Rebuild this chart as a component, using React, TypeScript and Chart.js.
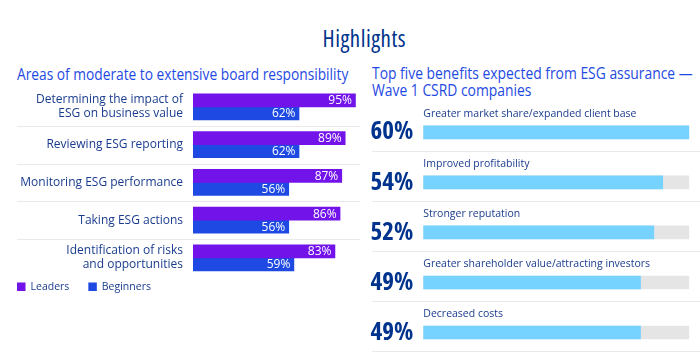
import React, { useEffect, useRef } from "react";
import { Chart, registerables } from "chart.js";

Chart.register(...registerables);

// ---------- Data ----------
const pageTitle = "Highlights";
const leftTitle = "Areas of moderate to extensive board responsibility";
const rightTitleLines = ["Top five benefits expected from ESG assurance —", "Wave 1 CSRD companies"];

const areaCategories: string[][] = [
  ["Determining the impact of", "ESG on business value"],
  ["Reviewing ESG reporting"],
  ["Monitoring ESG performance"],
  ["Taking ESG actions"],
  ["Identification of risks", "and opportunities"],
];
const seriesNames = ["Leaders", "Beginners"];
const leadersValues = [95, 89, 87, 86, 83];
const beginnersValues = [62, 62, 56, 56, 59];
const areaAxisMax = 100;

const benefitCategories = [
  "Greater market share/expanded client base",
  "Improved profitability",
  "Stronger reputation",
  "Greater shareholder value/attracting investors",
  "Decreased costs",
];
const benefitValues = [60, 54, 52, 49, 49];
const benefitAxisMax = 60;

// ---------- Styles ----------
const PURPLE = "#7213EA";
const BLUE = "#1E49E2";
const LIGHT_BLUE = "#76D2FF";
const TRACK = "#E5E5E5";
const NAVY = "#00338D";
const LABEL_NAVY = "#1A3C8E";
const SEP = "#E9E9E9";
const BODY = "'Open Sans', 'Noto Sans', sans-serif";

const leftPlugin = {
  id: "leftDecor",
  beforeDatasetsDraw(chart: any) {
    const { ctx } = chart;
    const y = chart.scales.y;
    ctx.save();
    ctx.strokeStyle = SEP;
    ctx.lineWidth = 1;
    for (let i = 1; i < areaCategories.length; i++) {
      const py = Math.round((y.getPixelForValue(i - 1) + y.getPixelForValue(i)) / 2) + 0.5;
      ctx.beginPath();
      ctx.moveTo(17, py);
      ctx.lineTo(360, py);
      ctx.stroke();
    }
    ctx.restore();
  },
  afterDatasetsDraw(chart: any) {
    const { ctx } = chart;
    ctx.save();
    ctx.font = `12px ${BODY}`;
    ctx.fillStyle = "#FFFFFF";
    ctx.textAlign = "right";
    ctx.textBaseline = "middle";
    chart.data.datasets.forEach((ds: any, di: number) => {
      const meta = chart.getDatasetMeta(di);
      meta.data.forEach((el: any, i: number) => {
        ctx.fillText(`${ds.data[i]}%`, el.x - 3.5, el.y + 0.5);
      });
    });
    // legend
    let x = 17;
    const ly = 199;
    ctx.font = `10.5px ${BODY}`;
    ctx.textAlign = "left";
    chart.data.datasets.forEach((ds: any) => {
      ctx.fillStyle = ds.backgroundColor;
      ctx.fillRect(x, ly - 4.5, 8.5, 8.5);
      ctx.fillStyle = LABEL_NAVY;
      ctx.fillText(ds.label, x + 13.5, ly);
      x += 13.5 + ctx.measureText(ds.label).width + 19;
    });
    ctx.restore();
  },
};

const rightPlugin = {
  id: "rightDecor",
  beforeDatasetsDraw(chart: any) {
    const { ctx } = chart;
    const meta = chart.getDatasetMeta(0);
    ctx.save();
    ctx.strokeStyle = SEP;
    ctx.lineWidth = 1;
    meta.data.forEach((el: any) => {
      const py = Math.round(el.y + 18.8) + 0.5;
      ctx.beginPath();
      ctx.moveTo(12, py);
      ctx.lineTo(340, py);
      ctx.stroke();
    });
    ctx.restore();
  },
  afterDatasetsDraw(chart: any) {
    const { ctx, chartArea } = chart;
    const meta = chart.getDatasetMeta(0);
    ctx.save();
    ctx.font = `10.5px ${BODY}`;
    ctx.fillStyle = LABEL_NAVY;
    ctx.textAlign = "left";
    ctx.textBaseline = "middle";
    meta.data.forEach((el: any, i: number) => {
      ctx.fillText(benefitCategories[i], chartArea.left, el.y - 18.5);
    });
    ctx.restore();
  },
};

const noPad = (w: number) => (s: any) => {
  s.width = w;
  s.paddingTop = 0;
  s.paddingBottom = 0;
};

export default function App() {
  const leftRef = useRef<HTMLCanvasElement>(null);
  const rightRef = useRef<HTMLCanvasElement>(null);

  useEffect(() => {
    document.body.style.margin = "0";
    const left = new Chart(leftRef.current as HTMLCanvasElement, {
      type: "bar",
      data: {
        labels: areaCategories as any,
        datasets: [
          { label: seriesNames[0], data: leadersValues, backgroundColor: PURPLE, barThickness: 13 },
          { label: seriesNames[1], data: beginnersValues, backgroundColor: BLUE, barThickness: 13 },
        ],
      },
      options: {
        indexAxis: "y",
        animation: false,
        responsive: false,
        maintainAspectRatio: false,
        layout: { padding: { left: 0, right: 6, top: 0, bottom: 26.25 } },
        datasets: { bar: { categoryPercentage: 30 / 37.75, barPercentage: 1 } },
        scales: {
          x: { display: false, min: 0, max: areaAxisMax },
          y: {
            grid: { display: false, drawTicks: false },
            border: { display: false },
            ticks: { padding: 10, color: LABEL_NAVY, font: { family: BODY, size: 12, lineHeight: 1.14 } },
            afterFit: noPad(193),
          },
        },
        plugins: { legend: { display: false }, tooltip: { enabled: false } },
      } as any,
      plugins: [leftPlugin],
    });

    const right = new Chart(rightRef.current as HTMLCanvasElement, {
      type: "bar",
      data: {
        labels: benefitCategories,
        datasets: [
          { label: "Benefit", data: benefitValues, backgroundColor: LIGHT_BLUE, barThickness: 13, order: 0 },
          { label: "Track", data: benefitCategories.map(() => benefitAxisMax), backgroundColor: TRACK, barThickness: 13, order: 1 },
        ],
      },
      options: {
        indexAxis: "y",
        animation: false,
        responsive: false,
        maintainAspectRatio: false,
        layout: { padding: { left: 0, right: 10.7, top: 7.3, bottom: 0.45 } },
        datasets: { bar: { grouped: false } },
        scales: {
          x: { display: false, min: 0, max: benefitAxisMax },
          y: {
            grid: { display: false, drawTicks: false },
            border: { display: false },
            ticks: {
              padding: 10,
              color: NAVY,
              font: { family: BODY, size: 25, weight: "bold condensed" },
              callback: (_v: any, i: number) => `${benefitValues[i]}%`,
            },
            afterFit: noPad(63.3),
          },
        },
        plugins: { legend: { display: false }, tooltip: { enabled: false } },
      } as any,
      plugins: [rightPlugin],
    });

    return () => {
      left.destroy();
      right.destroy();
    };
  }, []);

  const base: any = { fontFamily: BODY, whiteSpace: "nowrap", position: "absolute" };

  return (
    <div style={{ position: "fixed", left: 0, top: 0, width: 700, height: 358, background: "#fff", overflow: "hidden" }}>
      <div
        style={{
          ...base,
          fontStretch: "75%",
          letterSpacing: "0.5px",
          left: 364.3,
          top: 26.5,
          transform: "translateX(-50%)",
          fontSize: 23,
          lineHeight: "23px",
          color: NAVY,
        }}
      >
        {pageTitle}
      </div>
      <div
        style={{
          ...base,
          fontWeight: 500,
          left: 17,
          top: 67.3,
          fontSize: 15.5,
          lineHeight: "15.5px",
          color: BLUE,
          transform: "scaleX(0.887)",
          transformOrigin: "0 0",
        }}
      >
        {leftTitle}
      </div>
      <div
        style={{
          ...base,
          fontWeight: 500,
          left: 372,
          top: 65.2,
          fontSize: 15.5,
          lineHeight: "16.7px",
          color: BLUE,
          transform: "scaleX(0.895)",
          transformOrigin: "0 0",
        }}
      >
        {rightTitleLines.map((l) => (
          <div key={l}>{l}</div>
        ))}
      </div>
      <canvas ref={leftRef} width={370} height={215} style={{ position: "absolute", left: 0, top: 88, width: 370, height: 215 }} />
      <canvas ref={rightRef} width={340} height={258} style={{ position: "absolute", left: 360, top: 100, width: 340, height: 258 }} />
    </div>
  );
}
